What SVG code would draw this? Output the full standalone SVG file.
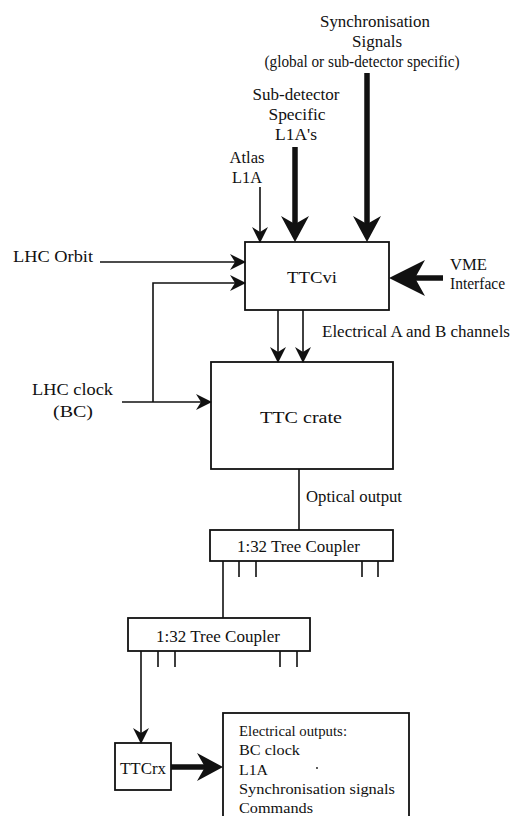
<svg xmlns="http://www.w3.org/2000/svg" width="512" height="816" viewBox="0 0 512 816">
  <style>
    text { font-family: "Liberation Serif", "Times New Roman", serif; font-size: 17px; fill: #111; }
    .mid { text-anchor: middle; }
    .box { fill: #fff; stroke: #111; stroke-width: 1.8; }
    .thin { fill: none; stroke: #111; stroke-width: 1.6; }
    .thick { fill: none; stroke: #111; stroke-width: 5.5; }
    .small { font-size: 15px; }
  </style>
  <defs>
    <marker id="head" viewBox="0 0 16 16" markerUnits="userSpaceOnUse" markerWidth="16" markerHeight="16" refX="15" refY="8" orient="auto">
      <path d="M0,0 L16,8 L0,16 L5,8 Z" fill="#111"/>
    </marker>
    <marker id="headBig" viewBox="0 0 26 28" markerUnits="userSpaceOnUse" markerWidth="26" markerHeight="28" refX="16" refY="14" orient="auto">
      <path d="M0,0 L26,14 L0,28 L8,14 Z" fill="#111"/>
    </marker>
    <marker id="headHuge" viewBox="0 0 36 36" markerUnits="userSpaceOnUse" markerWidth="36" markerHeight="36" refX="24" refY="18" orient="auto">
      <path d="M0,0 L36,18 L0,36 L10,18 Z" fill="#111"/>
    </marker>
  </defs>

  <!-- signal labels -->
  <g id="sync-label">
    <text class="mid" x="375" y="27" textLength="110" lengthAdjust="spacingAndGlyphs">Synchronisation</text>
    <text class="mid" x="377" y="47" textLength="50" lengthAdjust="spacingAndGlyphs">Signals</text>
    <text class="mid" x="362" y="67" textLength="195" lengthAdjust="spacingAndGlyphs">(global or sub-detector specific)</text>
  </g>
  <g id="subdet-label">
    <text class="mid" x="296" y="100" textLength="87" lengthAdjust="spacingAndGlyphs">Sub-detector</text>
    <text class="mid" x="297" y="120" textLength="57" lengthAdjust="spacingAndGlyphs">Specific</text>
    <text class="mid" x="296" y="140" textLength="42" lengthAdjust="spacingAndGlyphs">L1A's</text>
  </g>
  <g id="atlas-label">
    <text class="mid" x="247" y="163" textLength="35" lengthAdjust="spacingAndGlyphs">Atlas</text>
    <text class="mid" x="247" y="183" textLength="30" lengthAdjust="spacingAndGlyphs">L1A</text>
  </g>
  <g id="orbit-label">
    <text x="13" y="262" textLength="80" lengthAdjust="spacingAndGlyphs">LHC Orbit</text>
  </g>
  <g id="vme-label">
    <text x="450" y="270" textLength="37" lengthAdjust="spacingAndGlyphs">VME</text>
    <text x="450" y="289" textLength="55" lengthAdjust="spacingAndGlyphs">Interface</text>
  </g>
  <g id="clock-label">
    <text x="32" y="395" textLength="81" lengthAdjust="spacingAndGlyphs">LHC clock</text>
    <text x="53" y="417" textLength="40" lengthAdjust="spacingAndGlyphs">(BC)</text>
  </g>
  <g id="channels-label">
    <text x="322" y="337" textLength="188" lengthAdjust="spacingAndGlyphs">Electrical A and B channels</text>
  </g>
  <g id="optical-label">
    <text x="306" y="502" textLength="96" lengthAdjust="spacingAndGlyphs">Optical output</text>
  </g>

  <!-- blocks -->
  <g id="ttcvi">
    <rect class="box" x="245" y="242" width="144" height="68"/>
    <text class="mid" x="312" y="283" font-size="19" textLength="50" lengthAdjust="spacingAndGlyphs">TTCvi</text>
  </g>
  <g id="ttc-crate">
    <rect class="box" x="211" y="362" width="182" height="107"/>
    <text class="mid" x="301" y="423" font-size="19" textLength="82" lengthAdjust="spacingAndGlyphs">TTC crate</text>
  </g>
  <g id="coupler-1">
    <rect class="box" x="210" y="530" width="183" height="31"/>
    <text class="mid" x="298.5" y="552" textLength="123" lengthAdjust="spacingAndGlyphs">1:32 Tree Coupler</text>
    <path class="thin" d="M239,561 V577 M256,561 V577 M362,561 V577 M378,561 V577"/>
  </g>
  <g id="coupler-2">
    <rect class="box" x="128" y="618" width="182" height="33"/>
    <text class="mid" x="218" y="642" textLength="124" lengthAdjust="spacingAndGlyphs">1:32 Tree Coupler</text>
    <path class="thin" d="M158,651 V667 M175,651 V667 M280,651 V667 M297,651 V667"/>
  </g>
  <g id="ttcrx">
    <rect class="box" x="115" y="743" width="56" height="47"/>
    <text class="mid" x="143" y="774" textLength="46" lengthAdjust="spacingAndGlyphs">TTCrx</text>
  </g>
  <g id="outputs">
    <rect class="box" x="223" y="713" width="186" height="120"/>
    <text class="small" x="239" y="736" textLength="108" lengthAdjust="spacingAndGlyphs">Electrical outputs:</text>
    <text class="small" x="239" y="755" textLength="61" lengthAdjust="spacingAndGlyphs">BC clock</text>
    <text class="small" x="239" y="775" textLength="29" lengthAdjust="spacingAndGlyphs">L1A</text>
    <circle cx="317" cy="768" r="0.9" fill="#111"/>
    <text class="small" x="239" y="794" textLength="156" lengthAdjust="spacingAndGlyphs">Synchronisation signals</text>
    <text class="small" x="239" y="813" textLength="74" lengthAdjust="spacingAndGlyphs">Commands</text>
  </g>

  <!-- connectors -->
  <g id="connectors">
    <path class="thin" d="M260,187 V242" marker-end="url(#head)"/>
    <path class="thick" d="M295,147 V232" marker-end="url(#headBig)"/>
    <path class="thick" d="M367,73 V232" marker-end="url(#headBig)"/>
    <path class="thin" d="M100,262 H245" marker-end="url(#head)"/>
    <path class="thin" d="M153,402 V283 H245" marker-end="url(#head)"/>
    <path class="thin" d="M122,402 H211" marker-end="url(#head)"/>
    <path class="thick" d="M443,278 H401" marker-end="url(#headHuge)"/>
    <path class="thin" d="M278,310 V362" marker-end="url(#head)"/>
    <path class="thin" d="M303,310 V362" marker-end="url(#head)"/>
    <path class="thin" d="M299,469 V530"/>
    <path class="thin" d="M223,561 V618"/>
    <path class="thin" d="M141,651 V743" marker-end="url(#head)"/>
    <path class="thick" d="M171,767 H213" marker-end="url(#headBig)"/>
  </g>
</svg>
